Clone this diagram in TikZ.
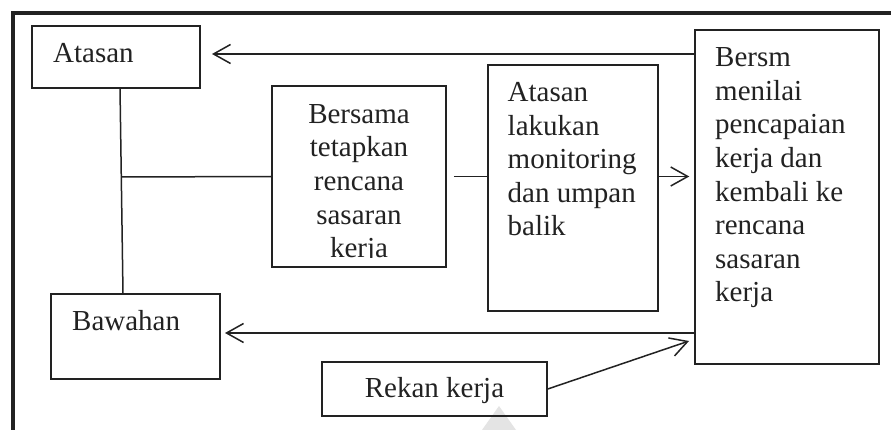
\documentclass[tikz,border=0pt]{standalone}
\usepackage{fontspec}
\setmainfont{Liberation Serif}
\usetikzlibrary{arrows.meta,calc}
\definecolor{ink}{HTML}{222222}
\definecolor{wm}{HTML}{E4E4E4}
\begin{document}
\begin{tikzpicture}[x=1pt,y=-1pt,
  box/.style={draw=ink,line width=1.5pt,rectangle,inner sep=0pt},
  txt/.style={inner sep=0pt,text=ink,font=\fontsize{29}{33.6}\selectfont},
  conn/.style={draw=ink,line width=1.5pt},
  arr/.style={conn,-{Straight Barb[length=17pt,width=19pt,line width=1.5pt]}}]
\useasboundingbox (0,0) rectangle (891,430);
\fill[white] (0,0) rectangle (891,430);
% watermark fragment
\fill[wm] (499,406) -- (516,430) -- (482,430) -- cycle;
% frame
\draw[line width=4pt,draw=ink] (13,432) -- (13,13) -- (893,13);
% boxes
\node[box,minimum width=168pt,minimum height=62pt] (atasan) at (116,57) {};
\node[box,minimum width=169pt,minimum height=85pt] (bawahan) at (135.5,336.5) {};
\node[box,minimum width=174pt,minimum height=181pt] (bersama) at (359,176.5) {};
\node[box,minimum width=170pt,minimum height=246pt] (monitor) at (573,188) {};
\node[box,minimum width=184pt,minimum height=334pt] (bersm) at (787,197) {};
\node[box,minimum width=225pt,minimum height=54pt] (rekan) at (434.5,389) {};
% texts
\node[txt,anchor=base west] (tatasan) at (53,62.5) {Atasan};
\node[txt,anchor=base west] (tbawahan) at (72,330.5) {Bawahan};
\node[txt,anchor=base] (trekan) at (434.5,397) {Rekan kerja};
\node[txt,anchor=base] (tb1) at (359,123.3) {Bersama};
\node[txt,anchor=base] (tb2) at (359,156.7) {tetapkan};
\node[txt,anchor=base] (tb3) at (359,190.2) {rencana};
\node[txt,anchor=base] (tb4) at (359,224.5) {sasaran};
\begin{scope}
\clip (272,230) rectangle (446,257.5);
\node[txt,anchor=base] (tb5) at (359,257.5) {kerja};
\end{scope}
\node[txt,anchor=base west] (tm1) at (507.5,101.7) {Atasan};
\node[txt,anchor=base west] (tm2) at (507.5,135.2) {lakukan};
\node[txt,anchor=base west] (tm3) at (507.5,168.7) {monitoring};
\node[txt,anchor=base west] (tm4) at (507.5,202.2) {dan umpan};
\node[txt,anchor=base west] (tm5) at (507.5,235.7) {balik};
\node[txt,anchor=base west] (tr1) at (715,66.7) {Bersm};
\node[txt,anchor=base west] (tr2) at (715,100.3) {menilai};
\node[txt,anchor=base west] (tr3) at (715,133.9) {pencapaian};
\node[txt,anchor=base west] (tr4) at (715,167.5) {kerja dan};
\node[txt,anchor=base west] (tr5) at (715,201.1) {kembali ke};
\node[txt,anchor=base west] (tr6) at (715,234.7) {rencana};
\node[txt,anchor=base west] (tr7) at (715,268.3) {sasaran};
\node[txt,anchor=base west] (tr8) at (715,301.9) {kerja};
% connectors
\coordinate (a1) at (212,54);
\draw[arr] (bersm.west |- a1) -- (a1);
\coordinate (v1) at (120,88);
\coordinate (v2) at (123,294);
\draw[conn] (v1) -- (v2);
\draw[conn] ($(v1)!0.432!(v2)$) -- (bersama.west);
\coordinate (g1) at ($(bersama.east)+(7,0)$);
\draw[conn] (g1) -- (monitor.west |- g1);
\coordinate (a3) at ($(bersm.west |- bersama.east)+(-5,0)$);
\draw[arr] (monitor.east |- a3) -- (a3);
\coordinate (a4) at (225,333);
\draw[arr] (bersm.west |- a4) -- (a4);
\coordinate (a5) at (689,341);
\draw[arr] (rekan.east) -- (a5);
\end{tikzpicture}
\end{document}
